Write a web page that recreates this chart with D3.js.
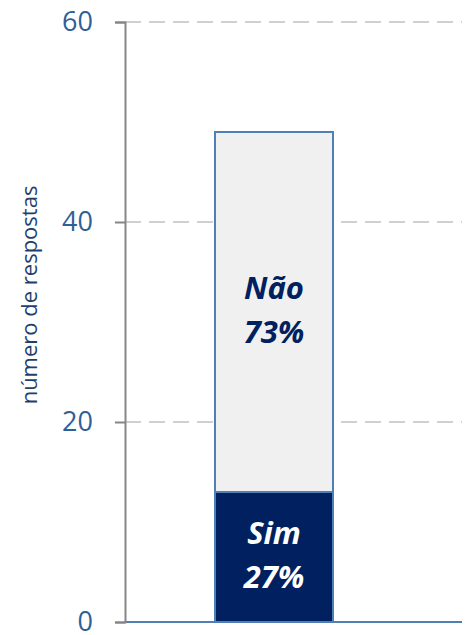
<!DOCTYPE html>
<meta charset="utf-8">
<style>
body { margin: 0; background: #fff; }
text { font-family: "Open Sans", sans-serif; }
</style>
<svg width="469" height="635"></svg>
<script src="https://d3js.org/d3.v7.min.js"></script>
<script>

var categories = ["Sim", "Não"];
var values = [13, 36];
var labels = ["27%", "73%"];
var yTicks = [0, 20, 40, 60];

var svg = d3.select("svg");

var x0 = 125, x1 = 462;
var y = d3.scaleLinear().domain([0, 60]).range([622, 22]);

// gridlines
svg.append("g")
  .selectAll("line")
  .data(yTicks)
  .enter().append("line")
  .attr("x1", x0).attr("x2", x1)
  .attr("y1", function(d) { return y(d); })
  .attr("y2", function(d) { return y(d); })
  .attr("stroke", "#d0d0d0")
  .attr("stroke-width", 2)
  .attr("stroke-dasharray", "16,8");

// stacked bar
var stack = [];
var acc = 0;
for (var i = 0; i < values.length; i++) {
  stack.push({ cat: categories[i], lab: labels[i], y0: acc, y1: acc + values[i] });
  acc += values[i];
}
var colors = { "Sim": "#002060", "Não": "#f0f0f0" };
var textColors = { "Sim": "#ffffff", "Não": "#002060" };

var bx = 215, bw = 118;

svg.append("g")
  .selectAll("rect")
  .data(stack)
  .enter().append("rect")
  .attr("x", bx)
  .attr("width", bw)
  .attr("y", function(d) { return y(d.y1); })
  .attr("height", function(d) { return y(d.y0) - y(d.y1); })
  .attr("fill", function(d) { return colors[d.cat]; })
  .attr("stroke", "#4f7fb5")
  .attr("stroke-width", 2);

var lbl = svg.append("g")
  .selectAll("text")
  .data(stack)
  .enter().append("text")
  .attr("x", bx + bw / 2)
  .attr("y", function(d) { return y((d.y0 + d.y1) / 2); })
  .attr("text-anchor", "middle")
  .attr("fill", function(d) { return textColors[d.cat]; })
  .style("font-size", "31px")
  .style("font-weight", "bold")
  .style("font-style", "italic");
lbl.append("tspan").attr("x", bx + bw / 2).attr("dy", -13).text(function(d) { return d.cat; });
lbl.append("tspan").attr("x", bx + bw / 2).attr("dy", 44).text(function(d) { return d.lab; });

// baseline
svg.append("line")
  .attr("x1", x0).attr("x2", x1)
  .attr("y1", y(0)).attr("y2", y(0))
  .attr("stroke", "#4f7fb5")
  .attr("stroke-width", 2);

// y axis
var yAxis = d3.axisLeft(y).tickValues(yTicks).tickSize(10).tickPadding(22);
var ga = svg.append("g")
  .attr("transform", "translate(" + x0 + ",0)")
  .call(yAxis);
ga.attr("font-size", null).attr("font-family", null);
ga.select(".domain").attr("stroke", "#868686").attr("stroke-width", 2);
ga.selectAll(".tick line").attr("stroke", "#868686").attr("stroke-width", 2);
ga.selectAll(".tick text")
  .attr("fill", "#2e6096")
  .style("font-family", "'Open Sans', sans-serif")
  .style("font-size", "27px");

svg.append("text")
  .attr("transform", "translate(37,295) rotate(-90)")
  .attr("text-anchor", "middle")
  .attr("fill", "#1f3f6e")
  .style("font-size", "22px")
  .text("número de respostas");

</script>
